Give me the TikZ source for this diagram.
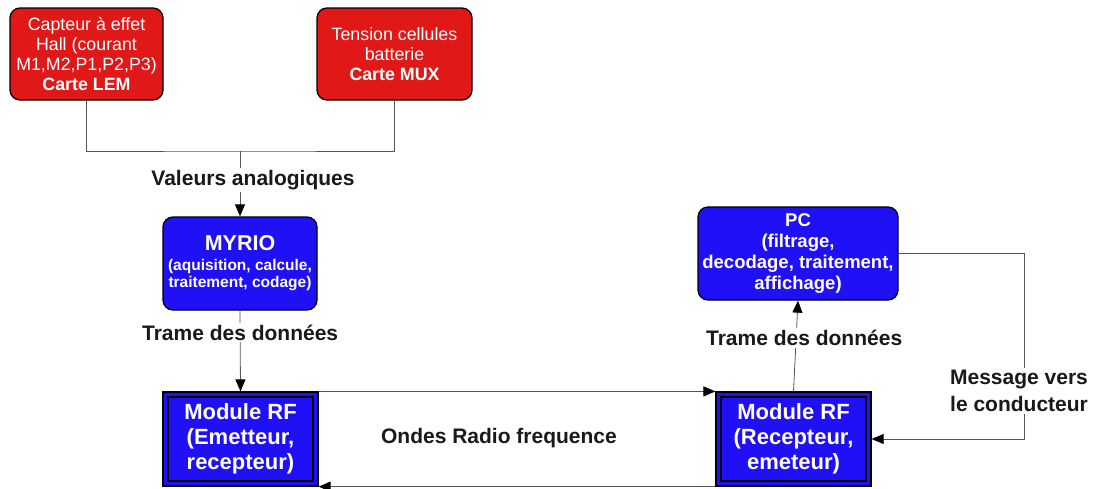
\documentclass[tikz,border=0pt]{standalone}
\usepackage{fontspec}
\setmainfont{Liberation Sans}
\usetikzlibrary{arrows.meta}
\definecolor{boxred}{HTML}{E01818}
\definecolor{boxblue}{HTML}{2010F5}
\definecolor{linegray}{HTML}{555555}
\tikzset{
  redbox/.style={draw=black, line width=1.3pt, fill=boxred, rounded corners=10pt,
    minimum width=153pt, minimum height=92pt, text=white, align=center, inner sep=0pt,
    font=\fontsize{17.8}{20}\selectfont},
  bluebox/.style={draw=black, line width=1.3pt, fill=boxblue, rounded corners=10pt,
    text=white, align=center, inner sep=0pt},
  rfbox/.style={draw=black, line width=1.2pt, fill=boxblue, minimum width=155pt,
    minimum height=94pt, text=white, align=center, inner sep=0pt,
    font=\bfseries\fontsize{22}{25}\selectfont},
  conn/.style={draw=linegray, line width=0.8pt},
  arr/.style={-{Triangle[length=12pt,width=10pt,color=black]}},
  lbl/.style={fill=white, inner sep=2pt, font=\bfseries\fontsize{21}{27}\selectfont, align=center, text=black!90}
}
\begin{document}
\begin{tikzpicture}[x=1pt,y=-1pt]
\useasboundingbox (0,0) rectangle (1097,488);
% boxes
\node[redbox] (lem) at (86.5,54) {Capteur à effet\\Hall (courant\\M1,M2,P1,P2,P3)\\\textbf{Carte LEM}};
\node[redbox, minimum width=155pt] (mux) at (394.5,54) {Tension cellules\\batterie\\\textbf{Carte MUX}};
\node[bluebox, minimum width=154pt, minimum height=93pt, font=\bfseries\fontsize{15.5}{17}\selectfont] (myrio) at (240,263.5)
  {{\fontsize{21.5}{24}\selectfont MYRIO}\\[3pt](aquisition, calcule,\\traitement, codage)};
\node[bluebox, minimum width=200pt, minimum height=93pt, font=\bfseries\fontsize{18.5}{21}\selectfont] (pc) at (798,253.5)
  {PC\\(filtrage,\\decodage, traitement,\\affichage)};
\node[rfbox] (rf1) at (240.5,439) {Module RF\\(Emetteur,\\recepteur)};
\node[rfbox] (rf2) at (793.5,439) {Module RF\\(Recepteur,\\emeteur)};
\foreach \r in {rf1,rf2}
  \draw[line width=2pt] ([shift={(6pt,-6pt)}]\r.north west) rectangle ([shift={(-6pt,6pt)}]\r.south east);
% connectors
\coordinate (j) at (240,151);
\draw[conn] (lem.south) |- (j) -| (mux.south);
\draw[conn,arr] (j) -- node[lbl, pos=0.44, xshift=13pt] {Valeurs analogiques} (myrio.north);
\draw[conn,arr] (myrio.south) -- node[lbl, pos=0.27] {Trame des données} (rf1.north);
\draw[conn,arr] (rf2.north) -- node[lbl, pos=0.59, xshift=8pt] {Trame des données} (pc.south);
\draw[conn,arr] (rf1.north east) -- (rf2.north west);
\draw[conn,arr] (rf2.south west) -- (rf1.south east);
\coordinate (m1) at (1024,253.5);
\coordinate (m2) at (1024,439);
\draw[conn,arr] (pc.east) -- (m1) -- node[lbl, pos=0.74, xshift=-5pt] {Message vers\\le conducteur} (m2) -- (rf2.east);
\node[font=\bfseries\fontsize{21}{25}\selectfont, text=black!90] (ondes) at (499,438) {Ondes Radio frequence};
\end{tikzpicture}
\end{document}
